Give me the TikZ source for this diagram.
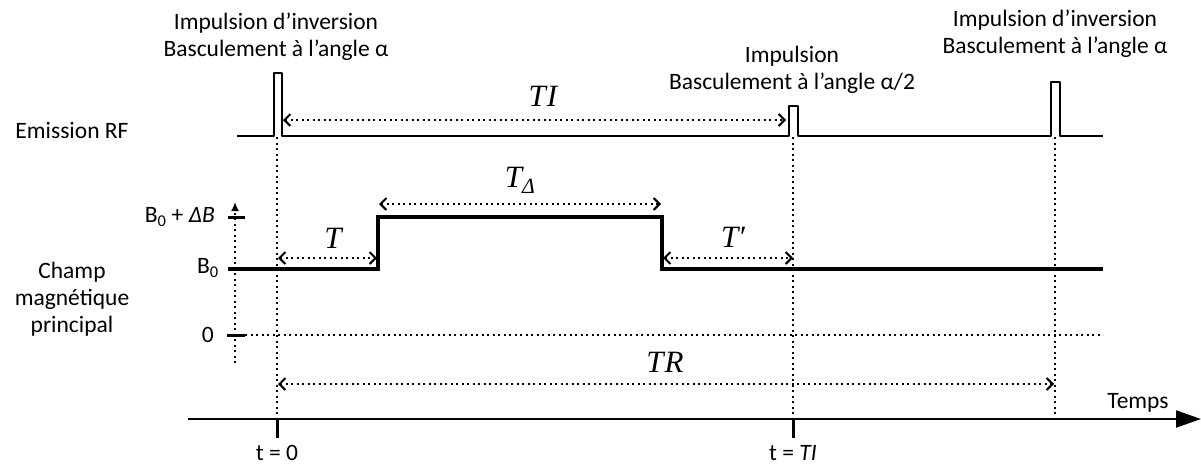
\documentclass[tikz,border=0pt]{standalone}
\usepackage{fontspec}
\setmainfont{Carlito}
\newfontfamily\mathlike{Liberation Serif}
\usetikzlibrary{arrows.meta}
\begin{document}
\begin{tikzpicture}[x=1pt,y=-1pt,
  lbl/.style={font=\fontsize{23.5}{27}\selectfont, align=center, inner sep=0pt},
  mlbl/.style={font=\mathlike\itshape\fontsize{31}{35}\selectfont, inner sep=0pt},
  dots/.style={line width=2pt, dash pattern=on 2pt off 3.5pt},
  barb/.tip={Straight Barb[length=6pt,width=12pt,line width=2pt]},
  dim/.style={dots, barb-barb},
  rf/.style={line width=2.7pt, line join=round},
  field/.style={line width=4pt, line join=miter},
  axisline/.style={line width=2pt},
  tick/.style={line width=3pt},
]
\useasboundingbox (0,0) rectangle (1201,464);

% ---------- coordinates ----------
\coordinate (rfs) at (237,136);
\coordinate (p1a) at (274,136); \coordinate (p1b) at (274,73);
\coordinate (p1c) at (282,73);  \coordinate (p1d) at (282,136);
\coordinate (p2a) at (789,136); \coordinate (p2b) at (789,106);
\coordinate (p2c) at (798,106); \coordinate (p2d) at (798,136);
\coordinate (p3a) at (1051,136); \coordinate (p3b) at (1051,82);
\coordinate (p3c) at (1060,82);  \coordinate (p3d) at (1060,136);
\coordinate (rfe) at (1103,136);

\coordinate (b0s) at (228,269);
\coordinate (s1a) at (378,269); \coordinate (s1b) at (378,217);
\coordinate (s2a) at (662,217); \coordinate (s2b) at (662,269);
\coordinate (b0e) at (1103,269);

\coordinate (yax0) at (235,363); \coordinate (yax1) at (235,202);
\coordinate (tk1a) at (228,217); \coordinate (tk1b) at (245,217);
\coordinate (tk0a) at (227,335); \coordinate (tk0b) at (245,335);
\coordinate (zl0) at (245,335); \coordinate (zl1) at (1103,335);

\coordinate (ax0) at (188,419); \coordinate (ax1) at (1201,419);
\coordinate (t0top) at (277,137); \coordinate (t0ax) at (277,419); \coordinate (t0bot) at (277,438);
\coordinate (tItop) at (793,137); \coordinate (tIax) at (793,419); \coordinate (tIbot) at (793,438);
\coordinate (trtop) at (1055,137); \coordinate (trax) at (1055,419);

\coordinate (TIa) at (283,120); \coordinate (TIb) at (786,120);
\coordinate (TDa) at (379,204); \coordinate (TDb) at (661,204);
\coordinate (Ta) at (278,258);  \coordinate (Tb) at (377,258);
\coordinate (Tpa) at (663,258); \coordinate (Tpb) at (793,258);
\coordinate (TRa) at (278,384); \coordinate (TRb) at (1054,384);

% ---------- signals ----------
\draw[rf] (rfs) -- (p1a) -- (p1b) -- (p1c) -- (p1d) -- (p2a) -- (p2b) -- (p2c) -- (p2d)
  -- (p3a) -- (p3b) -- (p3c) -- (p3d) -- (rfe);
\draw[field] (b0s) -- (s1a) -- (s1b) -- (s2a) -- (s2b) -- (b0e);

% ---------- axes ----------
\draw[dots, -{Latex[length=9pt,width=8pt]}] (yax0) -- (yax1);
\draw[tick] (tk1a) -- (tk1b);
\draw[tick] (tk0a) -- (tk0b);
\draw[dots] (zl0) -- (zl1);
\draw[axisline, -{Triangle[length=25pt,width=17pt]}] (ax0) -- (ax1);
\draw[tick] (t0ax) -- (t0bot);
\draw[tick] (tIax) -- (tIbot);

% ---------- vertical dotted guides ----------
\draw[dots] (t0top) -- (t0ax);
\draw[dots] (tItop) -- (tIax);
\draw[dots] (trtop) -- (trax);

% ---------- dimension arrows ----------
\draw[dim] (TIa) -- (TIb);
\draw[dim] (TDa) -- (TDb);
\draw[dim] (Ta) -- (Tb);
\draw[dim] (Tpa) -- (Tpb);
\draw[dim] (TRa) -- (TRb);

% ---------- labels ----------
\node[lbl] (l1) at (276,37) {Impulsion d’inversion\\Basculement à l’angle α};
\node[lbl] (l2) at (792,70) {Impulsion\\Basculement à l’angle α/2};
\node[lbl] (l3) at (1055,34) {Impulsion d’inversion\\Basculement à l’angle α};
\node[lbl] (emi) at (72,130) {Emission RF};
\node[lbl] (champ) at (72,299) {Champ\\magnétique\\principal};
\node[lbl, anchor=east] (lb1) at (215,217) {B\textsubscript{0} + \textit{ΔB}};
\node[lbl, anchor=east] (lb0) at (219,268) {B\textsubscript{0}};
\node[lbl, anchor=east] (lz) at (214,335) {0};
\node[lbl] (temps) at (1138,403) {Temps};
\node[lbl, anchor=base] (t0) at (277,460) {t = 0};
\node[lbl, anchor=base] (tI) at (793,460) {t = \textit{TI}};

\node[mlbl] (mTI) at (543,96) {T\kern1pt I};
\node[mlbl] (mTD) at (520,180) {T\textsubscript{Δ}};
\node[mlbl] (mT) at (333,238) {T};
\node[mlbl] (mTp) at (733,237) {T′};
\node[mlbl] (mTR) at (665,362) {T\kern1pt R};
\end{tikzpicture}
\end{document}
